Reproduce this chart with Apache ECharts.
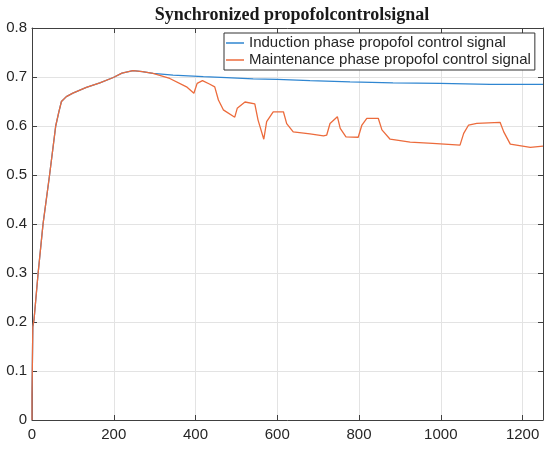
<!DOCTYPE html>
<html>
<head>
<meta charset="utf-8">
<script src="https://cdn.jsdelivr.net/npm/echarts@6/dist/echarts.min.js"></script>
<style>
  html, body { margin: 0; padding: 0; background: #fff; }
  #chart { width: 550px; height: 449px; }
</style>
</head>
<body>
<div id="chart"></div>
<script>
// shared start-up ramp (both signals overlap here)
const rampX = [0, 0, 2, 5, 15, 27, 43, 58, 66, 72, 84, 100, 133, 166, 199, 220, 247, 270, 296];
const rampY = [0, 0.05, 0.19, 0.205, 0.3, 0.4, 0.5, 0.6, 0.63, 0.65, 0.66, 0.667, 0.679, 0.688, 0.699, 0.708, 0.713, 0.711, 0.7075];

// induction phase after the split
const inductionX = [345, 419, 476, 541, 600, 680, 778, 883, 998, 1121, 1250];
const inductionY = [0.704, 0.7007, 0.6986, 0.696, 0.695, 0.6925, 0.690, 0.688, 0.687, 0.685, 0.685];

// maintenance phase after the split
const maintX = [337, 378, 396, 404, 417, 434, 447, 456, 468, 496, 502, 521, 545, 553, 567, 574, 590, 615, 623, 639,
  680, 713, 721, 729, 747, 754, 768, 798, 807, 819, 847, 856, 876, 925, 980, 1047, 1056, 1068, 1088, 1145, 1154, 1170, 1219, 1250];
const maintY = [0.697, 0.680, 0.6667, 0.687, 0.6925, 0.6857, 0.680, 0.653, 0.633, 0.618, 0.636, 0.649, 0.645, 0.612, 0.573, 0.609, 0.629, 0.629, 0.605, 0.588,
  0.584, 0.580, 0.5816, 0.605, 0.619, 0.595, 0.578, 0.577, 0.602, 0.6157, 0.6157, 0.592, 0.573, 0.567, 0.5645, 0.561, 0.585, 0.602, 0.6055, 0.6075, 0.588, 0.563, 0.5565, 0.559];

const xTicks = [0, 200, 400, 600, 800, 1000, 1200];
const yTicks = [0, 0.1, 0.2, 0.3, 0.4, 0.5, 0.6, 0.7, 0.8];

const pairs = (xs, ys) => xs.map((x, i) => [x, ys[i]]);
const inductionData = pairs(rampX, rampY).concat(pairs(inductionX, inductionY));
const maintData = pairs(rampX, rampY).concat(pairs(maintX, maintY));

const axisColor = '#404040';
const labelFont = {fontFamily: 'Liberation Sans', fontSize: 15, color: '#262626'};

let option = {
  animation: false,
  backgroundColor: '#fff',
  title: {
    text: 'Synchronized propofolcontrolsignal',
    left: 287,
    top: 1,
    textAlign: 'center',
    textStyle: {
      fontFamily: 'Liberation Serif',
      fontSize: 18,
      fontWeight: 'bold',
      color: '#1a1a1a'
    }
  },
  grid: {
    left: 32,
    top: 28,
    right: 7,
    bottom: 29,
    containLabel: false
  },
  legend: {
    orient: 'vertical',
    left: 224,
    top: 33,
    padding: [2, 4, 2, 2],
    icon: 'rect',
    itemWidth: 18,
    itemHeight: 1.5,
    itemGap: 1,
    backgroundColor: '#fff',
    borderColor: '#333',
    borderWidth: 1,
    borderRadius: 0,
    textStyle: {fontFamily: 'Liberation Sans', fontSize: 15, color: '#262626', lineHeight: 16},
    data: ['Induction phase propofol control signal', 'Maintenance phase propofol control signal']
  },
  xAxis: [
    {
      type: 'value',
      min: 0,
      max: 1250,
      interval: 200,
      axisLine: {show: true, onZero: false, lineStyle: {color: axisColor}},
      axisTick: {show: true, inside: true, length: 5, lineStyle: {color: axisColor}},
      axisLabel: Object.assign({margin: 7, showMaxLabel: false,
        formatter: v => xTicks.includes(v) ? String(v) : ''}, labelFont),
      splitLine: {show: true, lineStyle: {color: '#e3e3e3'}}
    },
    {
      type: 'value',
      position: 'top',
      min: 0,
      max: 1250,
      interval: 200,
      axisLine: {show: true, onZero: false, lineStyle: {color: axisColor}},
      axisTick: {show: true, inside: true, length: 5, lineStyle: {color: axisColor}},
      axisLabel: {show: false},
      splitLine: {show: false}
    }
  ],
  yAxis: [
    {
      type: 'value',
      min: 0,
      max: 0.8,
      interval: 0.1,
      axisLine: {show: true, onZero: false, lineStyle: {color: axisColor}},
      axisTick: {show: true, inside: true, length: 5, lineStyle: {color: axisColor}},
      axisLabel: Object.assign({margin: 5,
        formatter: v => {
          const t = yTicks.find(k => Math.abs(k - v) < 1e-6);
          return t === undefined ? '' : String(t);
        }}, labelFont),
      splitLine: {show: true, lineStyle: {color: '#e3e3e3'}}
    },
    {
      type: 'value',
      position: 'right',
      min: 0,
      max: 0.8,
      interval: 0.1,
      axisLine: {show: true, onZero: false, lineStyle: {color: axisColor}},
      axisTick: {show: true, inside: true, length: 5, lineStyle: {color: axisColor}},
      axisLabel: {show: false},
      splitLine: {show: false}
    }
  ],
  series: [
    {
      name: 'Induction phase propofol control signal',
      type: 'line',
      symbol: 'none',
      showSymbol: false,
      color: '#2f86d1',
      lineStyle: {width: 1.3, color: '#2f86d1'},
      data: inductionData
    },
    {
      name: 'Maintenance phase propofol control signal',
      type: 'line',
      symbol: 'none',
      showSymbol: false,
      color: '#ec6b3c',
      lineStyle: {width: 1.3, color: '#ec6b3c'},
      data: maintData
    }
  ]
};

let myChart = echarts.init(document.getElementById('chart'));
option && myChart.setOption(option);
</script>
</body>
</html>
